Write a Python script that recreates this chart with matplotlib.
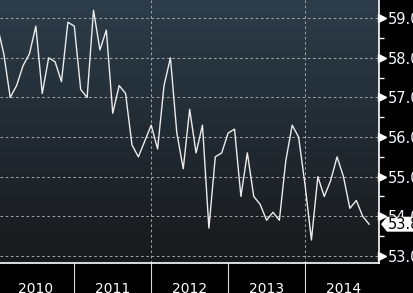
import numpy as np
import matplotlib.pyplot as plt
import matplotlib.transforms as mtransforms
from matplotlib.patches import Polygon
from matplotlib.colors import LinearSegmentedColormap

# monthly readings, Dec 2009 .. Oct 2014
values = [58.8,
          58.1, 57.0, 57.3, 57.8, 58.1, 58.8, 57.1, 58.0, 57.9, 57.4, 58.9, 58.8,
          57.2, 57.0, 59.2, 58.2, 58.7, 56.6, 57.3, 57.1, 55.8, 55.5, 55.9, 56.3,
          55.7, 57.3, 58.0, 56.1, 55.2, 56.7, 55.6, 56.3, 53.7, 55.5, 55.6, 56.1,
          56.2, 54.5, 55.6, 54.5, 54.3, 53.9, 54.1, 53.9, 55.4, 56.3, 56.0, 54.8,
          53.4, 55.0, 54.5, 54.9, 55.5, 55.0, 54.2, 54.4, 54.0, 53.8]
years = [2010, 2011, 2012, 2013, 2014]
yticks = [53, 54, 55, 56, 57, 58, 59]
last_label = "53.8"

x = 2010 + np.arange(len(values)) / 12.0

fig = plt.figure(figsize=(4.14, 2.93), dpi=100, facecolor='black')
ax = fig.add_axes([0, 30 / 293, 379 / 414, 263 / 293])

# background gradient
cmap = LinearSegmentedColormap.from_list('bg', ['#18191b', '#2c3d4a'])
grad = np.linspace(0, 1, 256).reshape(-1, 1)
ax.imshow(grad, cmap=cmap, origin='lower', aspect='auto',
          extent=[0, 1, 0, 1], transform=ax.transAxes, zorder=0)

ax.plot(x, values, color='#ececec', lw=1.0, zorder=3)

ax.set_xlim(2010.034, 2014.962)
ax.set_ylim(52.82, 59.46)

# grid
for y in yticks:
    ax.axhline(y, color='#a0a0a0', lw=0.75, dashes=(2.5, 2.5), zorder=1)
for yr in [2012, 2014]:
    ax.axvline(yr, color='#a0a0a0', lw=0.75, dashes=(2.5, 2.5), zorder=1)

for side in ['top', 'left']:
    ax.spines[side].set_visible(False)
for side in ['right', 'bottom']:
    ax.spines[side].set_color('white')
    ax.spines[side].set_linewidth(1.2)

# x axis: separators at year boundaries, labels mid-year
ax.set_xticks(years[1:])
ax.set_xticklabels([])
ax.set_xticks([yr + 0.5 for yr in years], minor=True)
ax.set_xticklabels([str(yr) for yr in years], minor=True)
ax.tick_params(axis='x', which='major', length=22, width=0.8, color='#d8d8d8')
ax.tick_params(axis='x', which='minor', length=0, pad=14, labelsize=10,
               labelcolor='white')

# y axis on right
ax.yaxis.tick_right()
ax.set_yticks(yticks)
ax.set_yticklabels([f"{v:.1f}" for v in yticks])
ax.set_yticks(np.arange(53.5, 59.5, 1.0), minor=True)
ax.tick_params(axis='y', which='major', length=0, pad=6.5, labelsize=10.5,
               labelcolor='#f2f6ff')
ax.tick_params(axis='y', which='minor', length=3.6, width=1, color='white')

# triangle markers at major ticks
tri = ax.get_yaxis_transform() + mtransforms.ScaledTranslation(
    3.5 / 100, 0, fig.dpi_scale_trans)
ax.plot([1] * len(yticks), yticks, ls='none', marker='>', ms=5.5,
        color='white', mec='white', transform=tri, clip_on=False, zorder=5)

# last value tag
anchor = mtransforms.ScaledTranslation(1, values[-1], ax.get_yaxis_transform())
tag = Polygon([(2, 0), (8, 7.5), (45, 7.5), (45, -7.5), (8, -7.5)],
              closed=True, fc='white', ec='none',
              transform=mtransforms.Affine2D() + anchor,
              clip_on=False, zorder=10)
ax.add_patch(tag)
ax.annotate(last_label, xy=(1, values[-1]), xycoords=ax.get_yaxis_transform(),
            xytext=(9, 0), textcoords='offset pixels', va='center', ha='left',
            fontsize=10.5, color='black', zorder=11, annotation_clip=False)

fig.savefig('out.png', dpi=100, facecolor='black')
